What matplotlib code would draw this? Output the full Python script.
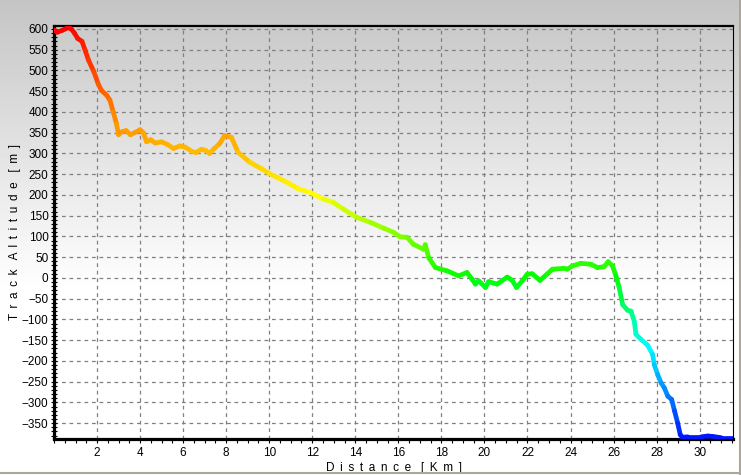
import numpy as np
import matplotlib
matplotlib.use("Agg")
import matplotlib.pyplot as plt
from matplotlib.collections import LineCollection
from matplotlib.colors import LinearSegmentedColormap, Normalize
from matplotlib.lines import Line2D

plt.rcParams['font.family'] = ['Liberation Sans', 'DejaVu Sans']

# track profile
distance_km = [0.0, 0.15, 0.4, 0.65, 0.8, 0.95, 1.1, 1.3, 1.45, 1.6, 1.85, 2.05, 2.2, 2.45, 2.6,
               2.75, 2.9, 3.0, 3.15, 3.35, 3.55, 3.75, 4.0, 4.15, 4.3, 4.5, 4.7, 5.0, 5.25, 5.55,
               5.85, 6.1, 6.4, 6.6, 6.85, 7.05, 7.23, 7.45, 7.69, 7.93, 8.24, 8.55, 9.09, 9.64,
               10.02, 10.49, 10.8, 11.34, 11.89, 12.51, 12.97, 13.44, 14.06, 14.69, 15.31, 15.77,
               16.08, 16.4, 16.7, 17.17, 17.25, 17.41, 17.72, 18.26, 18.8, 19.19, 19.42, 19.58,
               19.73, 20.05, 20.2, 20.59, 21.06, 21.29, 21.49, 21.76, 21.99, 22.22, 22.58, 22.93,
               23.16, 23.7, 23.85, 24.09, 24.48, 24.94, 25.25, 25.56, 25.75, 25.95, 26.11, 26.26,
               26.42, 26.65, 26.81, 26.96, 27.04, 27.27, 27.58, 27.82, 27.89, 28.05, 28.21, 28.36,
               28.52, 28.7, 28.83, 28.98, 29.1, 29.2, 29.45, 30.07, 30.38, 30.6, 31.0, 31.55]
altitude_m = [598, 592, 597, 603, 600, 590, 577, 570, 548, 525, 497, 468, 452, 440, 428,
              400, 372, 345, 352, 355, 345, 350, 357, 350, 328, 333, 325, 328, 322, 312,
              318, 315, 305, 302, 310, 307, 300, 312, 323, 343, 339, 303, 279, 263,
              251, 239, 231, 215, 206, 190, 182, 166, 146, 134, 120, 110,
              99, 98, 81, 69, 80, 49, 25, 17, 5, 13, -3, -15,
              -7, -23, -9, -15, 2, -6, -23, -7, 9, 10, -6, 10,
              21, 23, 21, 29, 35, 33, 25, 27, 39, 29, 5, -23,
              -64, -78, -80, -104, -136, -148, -162, -185, -209, -233, -253, -265,
              -285, -293, -320, -350, -378, -384, -383, -383, -381, -382, -385, -385]

x_ticks = list(range(2, 31, 2))
y_ticks = list(range(-350, 601, 50))


def spaced(text):
    # wide letter spacing like the original axis titles
    return ' \u2009'.join(text)


fig = plt.figure(figsize=(7.41, 4.75), dpi=100)

# background gradient over the whole figure
bg = fig.add_axes([0, 0, 1, 1], zorder=-10)
rows = np.arange(475)
g = 0.77 + 0.23 * np.clip(rows / 290.0, 0, 1)
bg.imshow(np.repeat(g[:, None], 2, axis=1), cmap='gray', vmin=0, vmax=1,
          aspect='auto', extent=[0, 1, 0, 1], origin='upper')
bg.axis('off')

ax = fig.add_axes([54 / 741, 1 - 438.5 / 475, (733 - 54) / 741, (438.5 - 26) / 475])
ax.patch.set_alpha(0)

# colour along the line by altitude
cmap = LinearSegmentedColormap.from_list('alt', [
    (0.0, '#0018ff'),
    ((-170 + 385) / 988, '#00ffff'),
    ((0 + 385) / 988, '#00ff00'),
    ((200 + 385) / 988, '#ffff00'),
    (1.0, '#ff0000')])
x = np.array(distance_km)
y = np.array(altitude_m)
pts = np.column_stack([x, y]).reshape(-1, 1, 2)
segs = np.concatenate([pts[:-1], pts[1:]], axis=1)
lc = LineCollection(segs, cmap=cmap, norm=Normalize(-385, 603), linewidths=3.4,
                    capstyle='round', joinstyle='round', zorder=3)
lc.set_array((y[:-1] + y[1:]) / 2)
ax.add_collection(lc)

ax.set_xlim(0, 31.55)
ax.set_ylim(-387, 607)
ax.set_xticks(x_ticks)
ax.set_yticks(y_ticks)
ax.set_xticks(np.arange(0, 31.6, 0.5), minor=True)
ax.set_yticks(np.arange(-380, 601, 10), minor=True)
ax.grid(True, which='major', color='#808080', linestyle=(0, (3, 3)), linewidth=0.9)
ax.tick_params(axis='x', which='both', direction='out', length=3, width=0.8, labelsize=8.5, pad=3)
ax.tick_params(axis='y', which='both', direction='inout', length=4, width=0.8, labelsize=8.5, pad=2)

ax.spines['left'].set_linewidth(2.3)
ax.spines['bottom'].set_linewidth(2.3)
ax.spines['top'].set_linewidth(1.6)
ax.spines['right'].set_linewidth(0.8)

ax.set_xlabel(spaced('Distance') + '   ' + spaced('[Km]'), fontsize=8.5)
ax.set_ylabel(spaced('Track') + '   ' + spaced('Altitude') + '   ' + spaced('[m]'), fontsize=8.5)
ax.xaxis.set_label_coords(0.5, -0.057)
ax.yaxis.set_label_coords(-0.049, 0.5)

# window frame lines at right and bottom
fig.add_artist(Line2D([739.5 / 741, 739.5 / 741], [0, 1], color='#aca899', lw=1.5))
fig.add_artist(Line2D([0, 1], [1 - 473 / 475, 1 - 473 / 475], color='#aca899', lw=1.5))

fig.savefig('out.png', dpi=100)
